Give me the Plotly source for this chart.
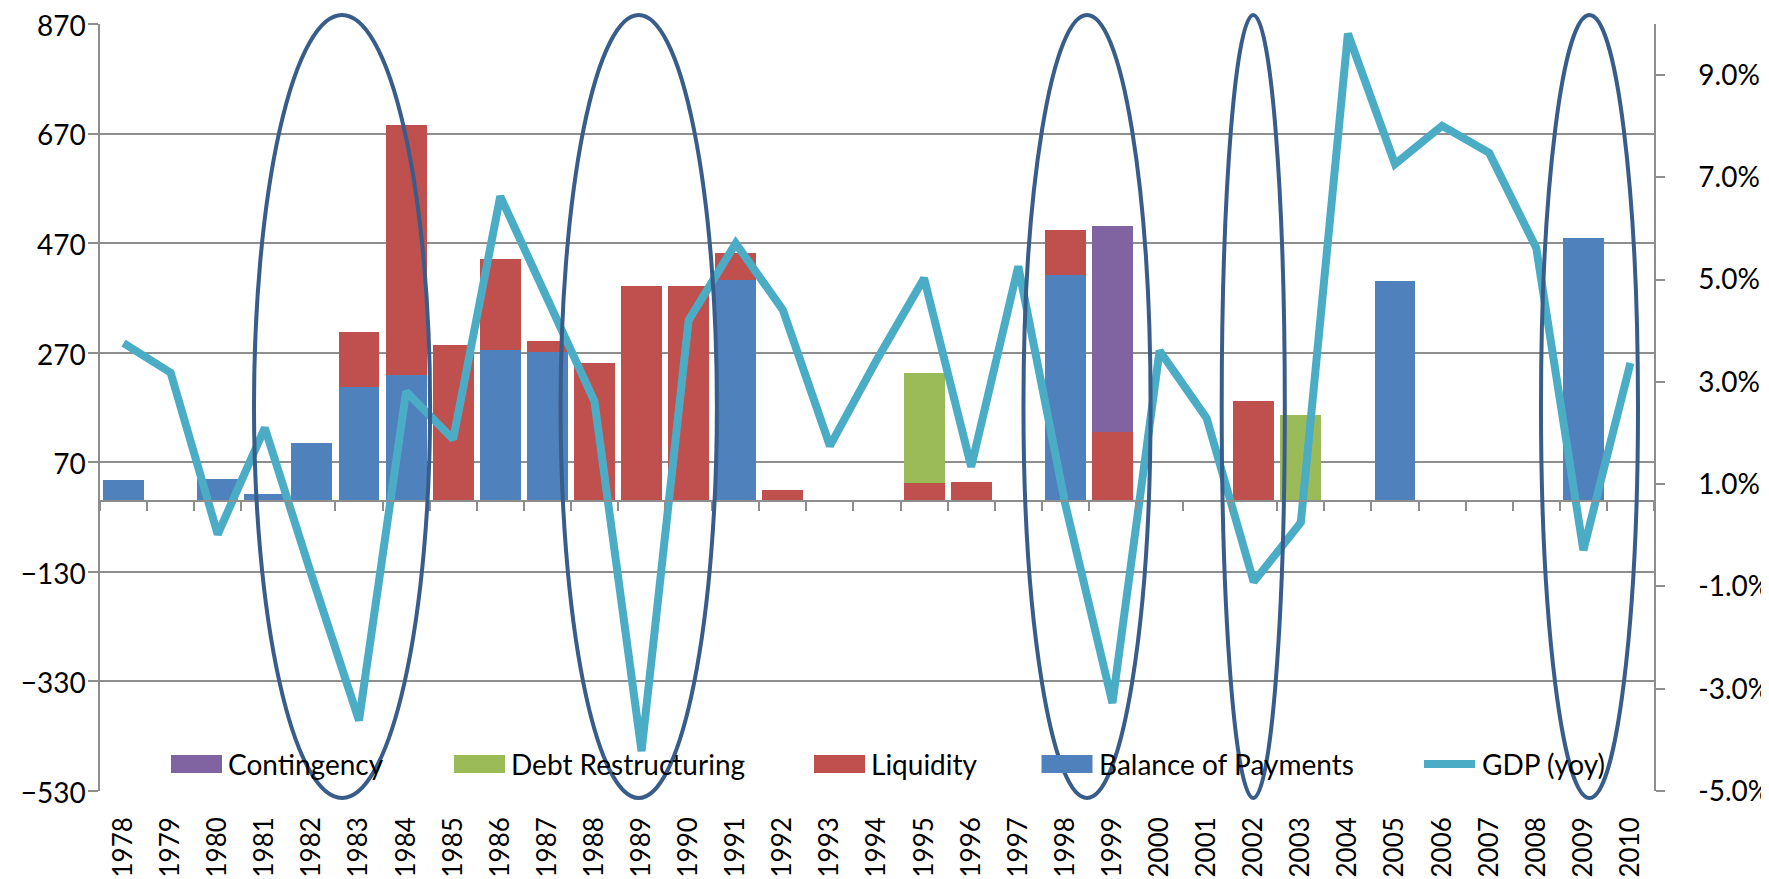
import plotly.graph_objects as go

# ---------------- data ----------------
years = [str(y) for y in range(1978, 2011)]

balance_of_payments = [38, None, 40, 13, 105, 207, 229, None, 275, 272, None, None, None, 403, None,
                       None, None, None, None, None, 411, None, None, None, None, None, None, 400,
                       None, None, None, 480, None]
liquidity = [None, None, None, None, None, 100, 457, 284, 166, 20, 251, 391, 391, 49, 19,
             None, None, 33, 34, None, 83, 125, None, None, 181, None, None, None,
             None, None, None, None, None]
debt_restructuring = [None] * 17 + [200] + [None] * 7 + [156] + [None] * 7
contingency = [None] * 21 + [376] + [None] * 11

gdp_yoy = [3.76, 3.18, 0.02, 2.1, -0.8, -3.62, 2.81, 1.88, 6.63, 4.65, 2.62, -4.22, 4.21, 5.71,
           4.41, 1.75, 3.44, 5.03, 1.34, 5.26, 0.6, -3.28, 3.61, 2.29, -0.91, 0.25, 9.81, 7.26,
           8.01, 7.48, 5.62, -0.29, 3.37]

left_ticks = [-530, -330, -130, 70, 270, 470, 670, 870]
right_ticks = [-5, -3, -1, 1, 3, 5, 7, 9]
right_labels = ["-5.0%", "-3.0%", "-1.0%", "1.0%", "3.0%", "5.0%", "7.0%", "9.0%"]

# highlighted episodes (centre in category index, half width in categories)
ellipse_centres = [4.64, 10.94, 20.46, 23.99, 31.13]
ellipse_halfwidths = [1.87, 1.66, 1.35, 0.67, 1.03]

legend_labels = ["Contingency", "Debt Restructuring", "Liquidity", "Balance of Payments", "GDP (yoy)"]

# ---------------- style ----------------
C_BOP = "#4F81BD"
C_LIQ = "#C0504D"
C_DEBT = "#9BBB59"
C_CONT = "#8064A2"
C_GDP = "#4BACC6"
C_ELL = "#385D8A"
C_GRID = "#8E8E8E"
FONT = "Lato, 'Open Sans', sans-serif"
FS = 28
FSX = 26

# the page body adds an 8px margin; the figure fills the rest of the window
OFF = 8
W, H = 1769 - OFF, 879 - OFF
ML, MT = 92, 16
MR = W - (1654 - OFF)
MB = H - (791 - OFF)
PW, PH = W - ML - MR, H - MT - MB
N = len(years)


def px_x(px):
    """window pixel x -> paper x"""
    return (px - OFF - ML) / PW


def px_y(py):
    """window pixel y -> paper y"""
    return (H - MB - (py - OFF)) / PH


fig = go.Figure()

for name, vals, col in [("Balance of Payments", balance_of_payments, C_BOP),
                        ("Liquidity", liquidity, C_LIQ),
                        ("Debt Restructuring", debt_restructuring, C_DEBT),
                        ("Contingency", contingency, C_CONT)]:
    fig.add_trace(go.Bar(x=years, y=vals, name=name, marker=dict(color=col, line=dict(width=0)),
                         showlegend=False, yaxis="y", xaxis="x"))

fig.add_trace(go.Scatter(x=years, y=gdp_yoy, name="GDP (yoy)", mode="lines",
                         line=dict(color=C_GDP, width=8), yaxis="y2", xaxis="x",
                         showlegend=False))

# dummy trace to host the category axis drawn at zero
fig.add_trace(go.Scatter(x=[0], y=[None], xaxis="x3", yaxis="y", mode="lines",
                         showlegend=False, hoverinfo="skip"))

shapes = []
for c, hw in zip(ellipse_centres, ellipse_halfwidths):
    shapes.append(dict(type="circle", xref="paper", yref="paper",
                       x0=(c - hw + 0.5) / N, x1=(c + hw + 0.5) / N,
                       y0=px_y(798), y1=px_y(15),
                       line=dict(color=C_ELL, width=4), layer="above"))

# legend drawn inside the plot area
leg_sym_x = [171, 454, 814, 1041.5, 1421]
leg_cols = [C_CONT, C_DEBT, C_LIQ, C_BOP, C_GDP]
annotations = []
for i, (lab, x0, col) in enumerate(zip(legend_labels, leg_sym_x, leg_cols)):
    if i < 4:
        shapes.append(dict(type="rect", xref="paper", yref="paper",
                           x0=px_x(x0), x1=px_x(x0 + 51), y0=px_y(773), y1=px_y(755),
                           fillcolor=col, line=dict(width=0), layer="above"))
        tx = x0 + 56
    else:
        shapes.append(dict(type="line", xref="paper", yref="paper",
                           x0=px_x(x0 + 3), x1=px_x(x0 + 54), y0=px_y(764), y1=px_y(764),
                           line=dict(color=col, width=8), layer="above"))
        tx = x0 + 60
    annotations.append(dict(text=lab, xref="paper", yref="paper", x=px_x(tx), y=px_y(764),
                            xanchor="left", yanchor="middle", showarrow=False,
                            font=dict(family=FONT, size=FS, color="black"), borderpad=0))

fig.update_layout(
    width=W, height=H,
    margin=dict(l=ML, r=MR, t=MT, b=MB, pad=0, autoexpand=False),
    paper_bgcolor="white", plot_bgcolor="white",
    barmode="stack", bargap=0.13,
    showlegend=False,
    font=dict(family=FONT, size=FS, color="black"),
    xaxis=dict(type="category", range=[-0.5, N - 0.5], tickangle=-90, ticks="",
               showline=False, showgrid=False, zeroline=False, automargin=False,
               ticklabeloverflow="allow",
               tickfont=dict(family=FONT, size=FSX, color="black"), ticklabelstandoff=20),
    xaxis3=dict(overlaying="x", anchor="free", position=(0 - left_ticks[0]) / (left_ticks[-1] - left_ticks[0]),
                range=[-0.5, N - 0.5], tickmode="array", tickvals=[i - 0.5 for i in range(N + 1)],
                ticks="outside", ticklen=9, tickwidth=1.5, tickcolor=C_GRID,
                showline=True, linecolor=C_GRID, linewidth=2, showticklabels=False,
                showgrid=False, zeroline=False, automargin=False),
    yaxis=dict(range=[left_ticks[0], left_ticks[-1]], tickmode="array", tickvals=left_ticks,
               showgrid=True, gridcolor=C_GRID, gridwidth=1.5,
               showline=True, linecolor=C_GRID, linewidth=1.5,
               ticks="outside", ticklen=10, tickwidth=1.5, tickcolor=C_GRID,
               zeroline=False, tickfont=dict(family=FONT, size=FS, color="black"),
               ticklabelstandoff=-3, ticklabelshift=2, ticklabeloverflow="allow", automargin=False),
    yaxis2=dict(overlaying="y", side="right", range=[-5, 10], tickmode="array", tickvals=right_ticks,
                ticktext=right_labels, showgrid=False, zeroline=False,
                showline=True, linecolor=C_GRID, linewidth=1.5,
                ticks="outside", ticklen=9, tickwidth=1.5, tickcolor=C_GRID,
                tickfont=dict(family=FONT, size=FS, color="black"), ticklabelstandoff=28,
                ticklabeloverflow="allow", automargin=False),
    shapes=shapes,
    annotations=annotations,
)

fig.write_html("out.html")
